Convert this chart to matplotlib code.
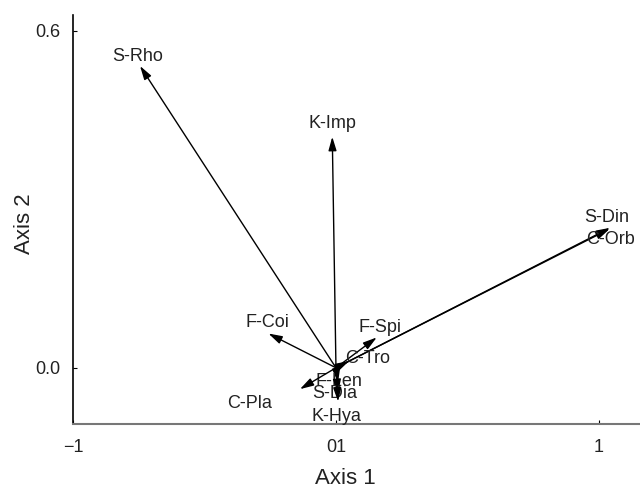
import matplotlib
matplotlib.use("Agg")
import matplotlib.pyplot as plt

plt.rcParams["font.family"] = ["Liberation Sans", "DejaVu Sans"]

# variable names, arrow tips (axis 1, axis 2) and label positions
names = ["S-Rho", "K-Imp", "S-Din", "C-Orb", "F-Coi", "F-Spi",
         "C-Tro", "F-Len", "S-Dia", "C-Pla", "K-Hya"]
tip_x = [-0.745, -0.014, 1.042, 1.040, -0.257, 0.155,
         0.05, 0.008, 0.008, -0.137, 0.008]
tip_y = [0.537, 0.411, 0.249, 0.247, 0.061, 0.054,
         0.012, -0.026, -0.045, -0.038, -0.06]
label_x = [-0.753, -0.015, 1.03, 1.042, -0.259, 0.167,
           0.122, 0.011, -0.004, -0.327, 0.0]
label_y = [0.554, 0.434, 0.267, 0.228, 0.080, 0.071,
           0.017, -0.024, -0.045, -0.063, -0.086]

x_ticks = [-1, 0, 1]
x_ticklabels = ["\u22121", "01", "1"]
y_ticks = [0.0, 0.6]
y_ticklabels = ["0.0", "0.6"]

fig = plt.figure(figsize=(6.4, 4.94), dpi=100)
ax = fig.add_axes([0.114, 0.1417, 0.886, 0.8283])

for n, tx, ty, lx, ly in zip(names, tip_x, tip_y, label_x, label_y):
    ax.annotate("", xy=(tx, ty), xytext=(0, 0),
                arrowprops=dict(arrowstyle="-|>,head_length=0.75,head_width=0.22",
                                color="black", lw=1.0, shrinkA=0, shrinkB=0,
                                mutation_scale=11))
    ax.text(lx, ly, n, ha="center", va="center", fontsize=13, color="#222222")

ax.set_xlim(-1, 1.156)
ax.set_ylim(-0.1, 0.628)
ax.set_xticks(x_ticks)
ax.set_xticklabels(x_ticklabels)
ax.set_yticks(y_ticks)
ax.set_yticklabels(y_ticklabels)
ax.tick_params(direction="in", length=3, labelsize=13, colors="black",
               labelcolor="#222222")
ax.tick_params(axis="x", pad=11)
ax.tick_params(axis="y", pad=9)

ax.spines["top"].set_visible(False)
ax.spines["right"].set_visible(False)
ax.spines["bottom"].set_color("#777777")
ax.spines["bottom"].set_linewidth(1.5)
ax.spines["left"].set_linewidth(1.2)

ax.set_xlabel("Axis 1", fontsize=16, color="#222222", va="center")
ax.set_ylabel("Axis 2", fontsize=16, color="#222222", va="center")
ax.xaxis.set_label_coords(0.48, -0.134)
ax.yaxis.set_label_coords(-0.085, 0.49)

fig.savefig("out.png", dpi=100)
